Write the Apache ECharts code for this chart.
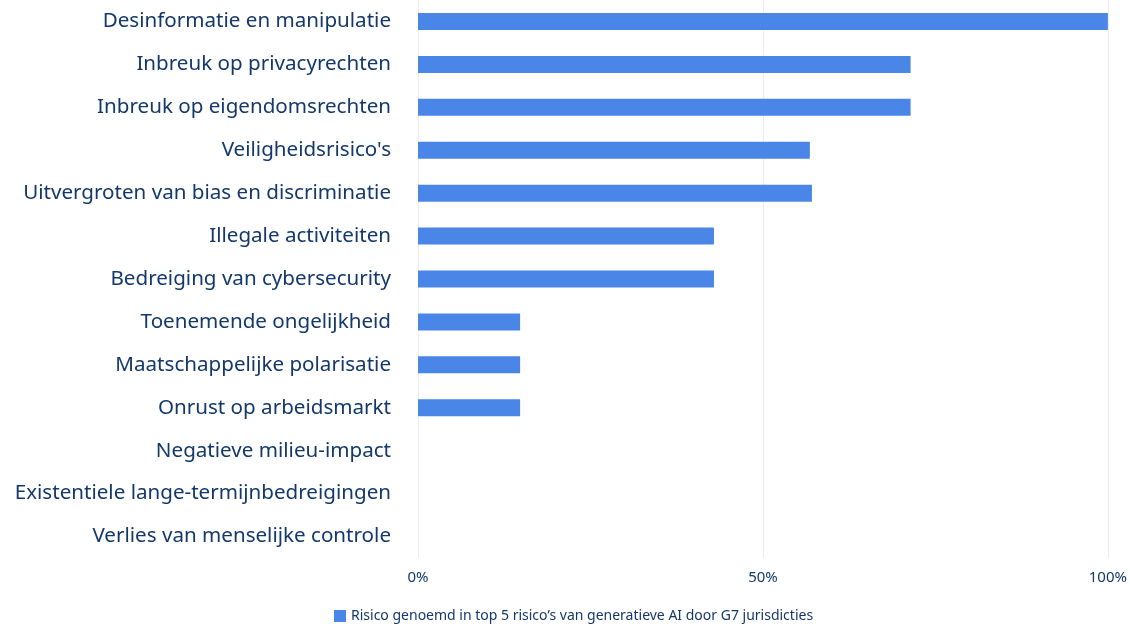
<!DOCTYPE html>
<html><head><meta charset="utf-8">
<script src="https://cdn.jsdelivr.net/npm/echarts@6/dist/echarts.min.js"></script>
<style>html,body{margin:0;padding:0;background:#fff}#c{width:1130px;height:624px}</style>
</head><body><div id="c"></div>
<script>
const categories = [
  "Desinformatie en manipulatie",
  "Inbreuk op privacyrechten",
  "Inbreuk op eigendomsrechten",
  "Veiligheidsrisico's",
  "Uitvergroten van bias en discriminatie",
  "Illegale activiteiten",
  "Bedreiging van cybersecurity",
  "Toenemende ongelijkheid",
  "Maatschappelijke polarisatie",
  "Onrust op arbeidsmarkt",
  "Negatieve milieu-impact",
  "Existentiele lange-termijnbedreigingen",
  "Verlies van menselijke controle"
];
const values = [100, 71.4, 71.4, 56.8, 57.1, 42.9, 42.9, 14.8, 14.8, 14.8, 0, 0, 0];
const seriesName = "Risico genoemd in top 5 risico’s van generatieve AI door G7 jurisdicties";
const xTicks = [0, 50, 100];

const navy = '#13386b';
const font = '"Source Sans Pro","Noto Sans",sans-serif';
const chart = echarts.init(document.getElementById('c'));
chart.setOption({
  animation: false,
  textStyle: {fontFamily: font},
  grid: {left: 418, right: 19, top: -1, bottom: 66, containLabel: false},
  legend: {
    top: 604, left: 329, itemWidth: 12, itemHeight: 12, itemGap: 10,
    icon: 'rect',
    textStyle: {color: navy, fontSize: 14, fontFamily: font},
    data: [seriesName]
  },
  xAxis: {
    type: 'value', min: 0, max: 100, interval: 50,
    axisLine: {show: false}, axisTick: {show: false},
    splitLine: {show: true, lineStyle: {color: '#ececec', width: 1}},
    axisLabel: {color: navy, fontSize: 15, margin: 12, formatter: v => xTicks.includes(v) ? v + '%' : ''}
  },
  yAxis: {
    type: 'category', inverse: true, data: categories,
    axisLine: {show: false}, axisTick: {show: false},
    axisLabel: {color: navy, fontSize: 20.6, margin: 27}
  },
  series: [{
    name: seriesName, type: 'bar', data: values, barWidth: 17,
    itemStyle: {color: '#4a86e8'}
  }]
});
</script></body></html>
